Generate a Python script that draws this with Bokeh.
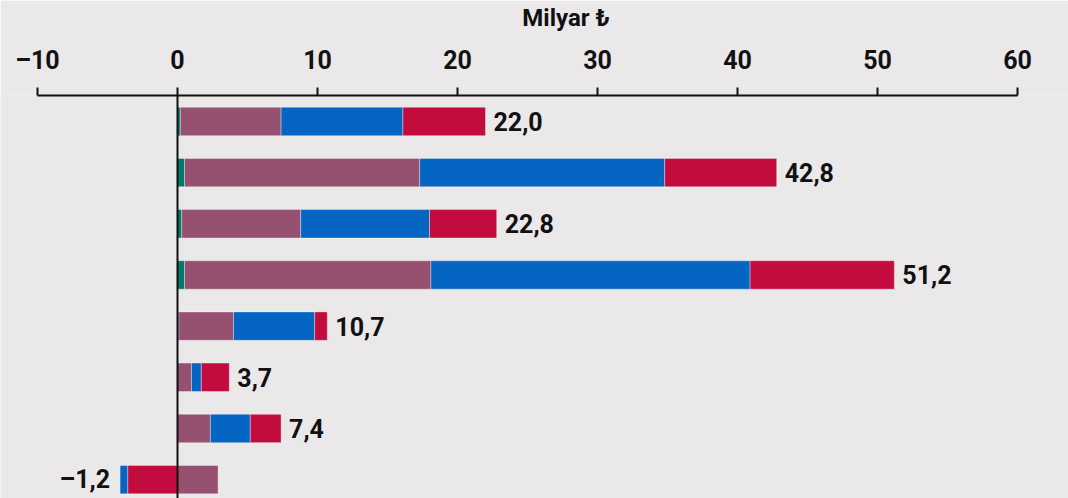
from bokeh.plotting import figure
from bokeh.models import Range1d, LinearAxis, FixedTicker, Span, ColumnDataSource
from bokeh.embed import file_html
from bokeh.resources import INLINE
from bokeh.core.properties import value

# ---- data ----
rows = [1, 2, 3, 4, 5, 6, 7, 8]
teal = [0.2, 0.5, 0.3, 0.5, 0.1, 0.0, 0.0, 0.0]
purple = [7.2, 16.8, 8.5, 17.6, 3.9, 1.0, 2.35, 2.9]
blue = [8.7, 17.5, 9.2, 22.8, 5.8, 0.7, 2.85, -0.55]
red = [5.9, 8.0, 4.8, 10.3, 0.9, 2.0, 2.2, -3.55]
totals = [22.0, 42.8, 22.8, 51.2, 10.7, 3.7, 7.4, -1.2]
tick_values = [-10, 0, 10, 20, 30, 40, 50, 60]
axis_title = "Milyar ₺"

series = [("teal", teal, "#007a6c"), ("purple", purple, "#965070"),
          ("blue", blue, "#0565c3"), ("red", red, "#c20c3d")]

BG = "#ebe8e9"
FONT = "Roboto"
INK = "#111111"

W, H = 1068, 498
TOP = 94          # axis line position (px from top)
X0_PX, PX_PER_UNIT = 177, 14.0
ROW1_PX, ROW_STEP = 120, 51.3

y_top = rows[0] - (ROW1_PX - TOP) / ROW_STEP
y_bot = y_top + (H - TOP) / ROW_STEP

p = figure(width=W, height=H, output_backend="svg", toolbar_location=None,
           x_range=Range1d(-X0_PX / PX_PER_UNIT, (W - X0_PX) / PX_PER_UNIT),
           y_range=Range1d(y_bot, y_top),
           x_axis_location=None, y_axis_location=None,
           min_border_left=0, min_border_right=0, min_border_top=TOP, min_border_bottom=0)
p.background_fill_color = BG
p.border_fill_color = BG
p.outline_line_color = None
p.grid.visible = False

# stacking: positives rightwards in series order; negatives leftwards in reverse order
n = len(rows)
pos_end = [0.0] * n
neg_end = [0.0] * n
lefts = {name: [0.0] * n for name, _, _ in series}
rights = {name: [0.0] * n for name, _, _ in series}
for name, vals, col in series:
    for i, v in enumerate(vals):
        if v >= 0:
            lefts[name][i] = pos_end[i]
            rights[name][i] = pos_end[i] + v
            pos_end[i] += v
for name, vals, col in reversed(series):
    for i, v in enumerate(vals):
        if v < 0:
            lefts[name][i] = neg_end[i] + v
            rights[name][i] = neg_end[i]
            neg_end[i] += v

for name, vals, col in series:
    src = ColumnDataSource(dict(y=rows, left=lefts[name], right=rights[name]))
    p.hbar(y="y", left="left", right="right", height=0.555, source=src,
           fill_color=col, line_color="white", line_alpha=0.35, line_width=1)


def fmt(v):
    return f"{v:.1f}".replace(".", ",").replace("-", "\u2013")


pos_idx = [i for i in range(n) if totals[i] >= 0]
neg_idx = [i for i in range(n) if totals[i] < 0]
pos_src = ColumnDataSource(dict(x=[pos_end[i] for i in pos_idx], y=[rows[i] for i in pos_idx],
                                t=[fmt(totals[i]) for i in pos_idx]))
neg_src = ColumnDataSource(dict(x=[neg_end[i] for i in neg_idx], y=[rows[i] for i in neg_idx],
                                t=[fmt(totals[i]) for i in neg_idx]))
common = dict(text_baseline="middle", text_font=value(FONT), text_font_style="bold",
              text_font_size="25px", text_color=INK)
p.text(x="x", y="y", text="t", source=pos_src, x_offset=8, text_align="left", **common)
p.text(x="x", y="y", text="t", source=neg_src, x_offset=-10, text_align="right", **common)

# zero line
p.add_layout(Span(location=0, dimension="height", line_color=INK, line_width=2))

# top axis
ax = LinearAxis(ticker=FixedTicker(ticks=tick_values), bounds=(tick_values[0], tick_values[-1]))
ax.major_label_overrides = {t: str(t).replace("-", "\u2013") for t in tick_values}
ax.axis_line_color = INK
ax.axis_line_width = 2
ax.major_tick_line_color = INK
ax.major_tick_line_width = 2
ax.major_tick_out = 8
ax.major_tick_in = 0
ax.minor_tick_out = 0
ax.minor_tick_in = 0
ax.major_label_standoff = 13
ax.major_label_text_font = FONT
ax.major_label_text_font_style = "bold"
ax.major_label_text_font_size = "25px"
ax.major_label_text_color = INK
p.add_layout(ax, "above")

# axis title, placed as a label-only axis stacked above the tick axis
title_pos = 27.75
tax = LinearAxis(ticker=FixedTicker(ticks=[title_pos]))
tax.major_label_overrides = {title_pos: axis_title}
tax.axis_line_color = None
tax.major_tick_line_color = None
tax.major_tick_out = 0
tax.major_tick_in = 0
tax.minor_tick_out = 0
tax.minor_tick_in = 0
tax.major_label_standoff = 11
tax.major_label_text_font = FONT
tax.major_label_text_font_style = "bold"
tax.major_label_text_font_size = "24px"
tax.major_label_text_color = INK
p.add_layout(tax, "above")

open("out.html", "w").write(file_html(p, INLINE))
